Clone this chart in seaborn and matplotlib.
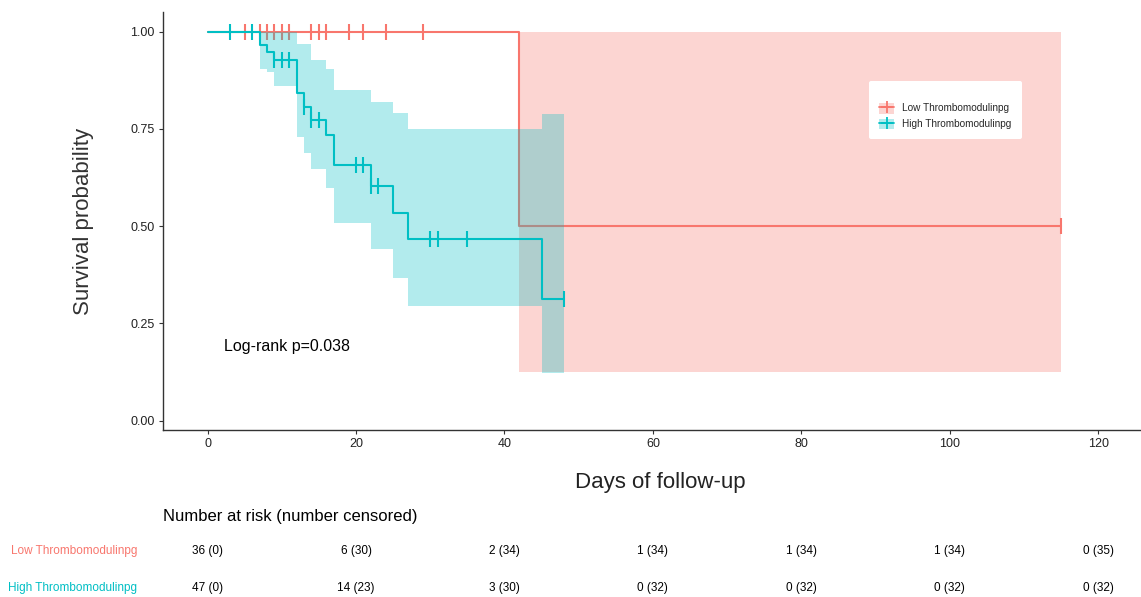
import numpy as np
import pandas as pd
import matplotlib
matplotlib.use("Agg")
import matplotlib.pyplot as plt
import matplotlib.transforms as mtransforms
from matplotlib.patches import Patch
from matplotlib.lines import Line2D
import seaborn as sns

# ---------------- data ----------------
groups = ["Low Thrombomodulinpg", "High Thrombomodulinpg"]
colors = ["#F8766D", "#00BFC4"]

# Low group step function
low_times = [0, 42]
low_end = 115
low_surv = [1.0, 0.5]
low_lower = [1.0, 0.125]
low_upper = [1.0, 1.0]
low_censor = [5, 7, 8, 9, 10, 11, 14, 15, 16, 19, 21, 24, 29, 115]

# High group step function
high_times = [0, 7, 8, 9, 12, 13, 14, 16, 17, 22, 25, 27, 45]
high_end = 48
high_surv = [1.0, 0.965, 0.948, 0.928, 0.841, 0.807, 0.774, 0.734, 0.657, 0.603, 0.534, 0.468, 0.312]
high_lower = [1.0, 0.905, 0.897, 0.860, 0.728, 0.687, 0.646, 0.599, 0.507, 0.441, 0.366, 0.295, 0.123]
high_upper = [1.0, 1.0, 1.0, 1.0, 0.969, 0.969, 0.928, 0.905, 0.851, 0.820, 0.790, 0.749, 0.788]
high_censor = [3, 6, 9, 10, 11, 13, 14, 15, 20, 21, 22, 23, 30, 31, 35, 48]

# Risk table
risk_times = [0, 20, 40, 60, 80, 100, 120]
low_risk = ["36 (0)", "6 (30)", "2 (34)", "1 (34)", "1 (34)", "1 (34)", "0 (35)"]
high_risk = ["47 (0)", "14 (23)", "3 (30)", "0 (32)", "0 (32)", "0 (32)", "0 (32)"]

x_ticks = [0, 20, 40, 60, 80, 100, 120]
y_ticks = [0.0, 0.25, 0.50, 0.75, 1.00]
y_ticklabels = ["0.00", "0.25", "0.50", "0.75", "1.00"]
pval_text = "Log-rank p=0.038"

# ---------------- style ----------------
sns.set_theme(style="white")
plt.rcParams["font.family"] = ["Liberation Sans", "DejaVu Sans"]

fig = plt.figure(figsize=(11.41, 5.97), dpi=100)
ax = fig.add_axes([0.1429, 0.2797, 0.856, 0.700])


def step_frame(times, end, vals):
    x = list(times) + [end]
    y = list(vals) + [vals[-1]]
    return x, y


def value_at(times, vals, t):
    idx = np.searchsorted(np.asarray(times), t, side="right") - 1
    return np.asarray(vals)[idx]


series = [
    (low_times, low_end, low_surv, low_lower, low_upper, low_censor),
    (high_times, high_end, high_surv, high_lower, high_upper, high_censor),
]

z = 1
for (times, end, surv, lower, upper, cens), name, col in zip(series, groups, colors):
    xs, lo = step_frame(times, end, lower)
    _, hi = step_frame(times, end, upper)
    ax.fill_between(xs, lo, hi, step="post", color=col, alpha=0.3, lw=0, zorder=z)
    _, sv = step_frame(times, end, surv)
    df = pd.DataFrame({"time": xs, "surv": sv})
    sns.lineplot(data=df, x="time", y="surv", ax=ax, color=col, lw=1.5,
                 drawstyle="steps-post", estimator=None, sort=False,
                 legend=False, zorder=z + 1)
    cy = [value_at(times, surv, t) for t in cens]
    cdf = pd.DataFrame({"time": cens, "surv": cy})
    sns.scatterplot(data=cdf, x="time", y="surv", ax=ax, marker="|", s=130,
                    color=col, linewidth=1.5, legend=False, zorder=z + 2)
    z += 3

ax.set_xlim(-6, 125.6)
ax.set_ylim(-0.024, 1.05)
ax.set_xticks(x_ticks)
ax.set_xticklabels([str(t) for t in x_ticks])
ax.set_yticks(y_ticks)
ax.set_yticklabels(y_ticklabels)
for s in ["top", "right"]:
    ax.spines[s].set_visible(False)
for s in ["left", "bottom"]:
    ax.spines[s].set_color("#333333")
    ax.spines[s].set_linewidth(1.0)
ax.tick_params(axis="both", which="both", length=3, width=0.8, color="#333333",
               labelsize=9, labelcolor="#222222", pad=3, direction="out",
               bottom=True, left=True)

ax.set_xlabel("Days of follow-up", fontsize=16, color="#222222")
ax.set_ylabel("Survival probability", fontsize=16, color="#333333")
ax.xaxis.set_label_coords(0.509, -0.10)
ax.yaxis.set_label_coords(-0.071, 0.5)

ax.text(2.2, 0.19, pval_text, fontsize=11.5, color="black", ha="left", va="center")

# legend
handles = [
    (Patch(facecolor=c, alpha=0.3, edgecolor="none"),
     Line2D([], [], color=c, lw=1.3, marker="+", markersize=9, markeredgewidth=1.3))
    for c in colors
]
leg = ax.legend(handles, groups, loc="upper left", bbox_to_anchor=(0.718, 0.848),
                fontsize=7.2, frameon=True, facecolor="white", edgecolor="none",
                framealpha=1.0, handlelength=1.5, handleheight=1.3,
                borderpad=1.0, labelspacing=0.5, title=" ", title_fontsize=5)
leg.set_zorder(20)

# risk table
fig.text(0.1429, 1 - 517 / 597, "Number at risk (number censored)", fontsize=12,
         color="black", ha="left", va="center")
trans = mtransforms.blended_transform_factory(ax.transData, fig.transFigure)
row_y = [1 - 551 / 597, 1 - 588 / 597]
for name, col, vals, ry in zip(groups, colors, [low_risk, high_risk], row_y):
    fig.text(0.120, ry, name, fontsize=8.5, color=col, ha="right", va="center")
    for t, v in zip(risk_times, vals):
        ax.text(t, ry, v, transform=trans, fontsize=8.5, color="black",
                ha="center", va="center", clip_on=False)

fig.savefig("out.png", dpi=100, facecolor="white")
